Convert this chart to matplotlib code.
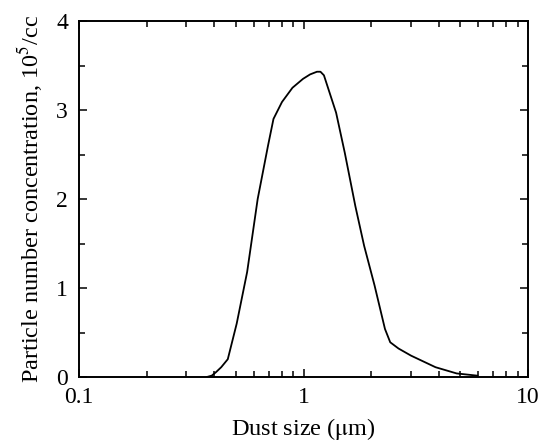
import matplotlib.pyplot as plt
from matplotlib.ticker import MultipleLocator, LogLocator, NullFormatter, FixedFormatter, FixedLocator
import numpy as np

plt.rcParams['font.family'] = ['Liberation Serif', 'DejaVu Serif']
plt.rcParams['mathtext.fontset'] = 'stix'

# dust size distribution (size in um, concentration in 1e5 /cc)
dust_size = [0.371, 0.39, 0.407, 0.43, 0.46, 0.504, 0.561, 0.625, 0.695, 0.735,
             0.802, 0.893, 0.995, 1.07, 1.148, 1.19, 1.233, 1.397, 1.527, 1.702,
             1.862, 2.072, 2.306, 2.434, 2.65, 3.013, 3.873, 4.81, 5.95]
concentration = [0.0, 0.015, 0.053, 0.11, 0.2, 0.6, 1.18, 2.0, 2.6, 2.9,
                 3.09, 3.25, 3.35, 3.40, 3.43, 3.43, 3.39, 2.97, 2.52, 1.92,
                 1.475, 1.03, 0.54, 0.39, 0.32, 0.24, 0.11, 0.04, 0.015]

x_ticks = [0.1, 1, 10]
x_tick_labels = ['0.1', '1', '10']
y_ticks = [0, 1, 2, 3, 4]

W, H = 547, 445
fig = plt.figure(figsize=(W / 100, H / 100), dpi=100)
ax = fig.add_axes([79 / W, 1 - 377 / H, (528 - 79) / W, (377 - 21) / H])

ax.plot(dust_size, concentration, color='black', lw=1.3)

ax.set_xscale('log')
ax.set_xlim(0.1, 10)
ax.set_ylim(0, 4)

ax.xaxis.set_major_locator(FixedLocator(x_ticks))
ax.xaxis.set_major_formatter(FixedFormatter(x_tick_labels))
ax.xaxis.set_minor_locator(LogLocator(base=10, subs=np.arange(2, 10)))
ax.xaxis.set_minor_formatter(NullFormatter())
ax.yaxis.set_major_locator(FixedLocator(y_ticks))
ax.yaxis.set_minor_locator(MultipleLocator(0.5))

ax.tick_params(which='both', direction='in', top=True, right=True,
               labelsize=17, width=1.1, color='black')
ax.tick_params(axis='x', which='major', pad=7)
ax.tick_params(axis='y', which='major', pad=8)
ax.tick_params(which='major', length=6)
ax.tick_params(which='minor', length=4)

for sp in ax.spines.values():
    sp.set_linewidth(1.4)

ax.set_xlabel(r'Dust size ($\mathrm{\mu}$m)', fontsize=17.5, labelpad=6)
ax.set_ylabel(r'Particle number concentration, 10$^5$/cc', fontsize=17.5, labelpad=8)

fig.savefig('out.png', dpi=100)
